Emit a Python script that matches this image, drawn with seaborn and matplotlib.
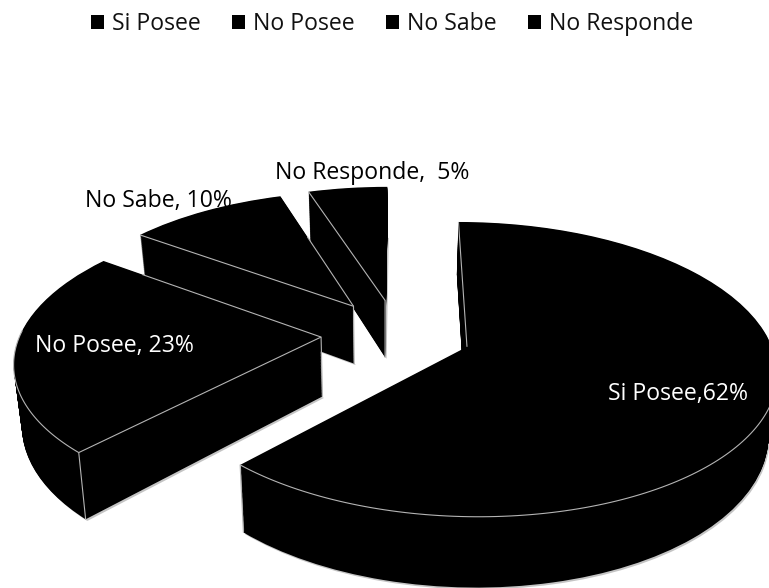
import numpy as np
import matplotlib
matplotlib.use("Agg")
import matplotlib.pyplot as plt
from matplotlib.transforms import Transform
import seaborn as sns

categories = ["Si Posee", "No Posee", "No Sabe", "No Responde"]
values = [62, 23, 10, 5]
point_labels = ["Si Posee,62%", "No Posee, 23%", "No Sabe, 10%", "No Responde,  5%"]

sns.set_theme(style="white")
plt.rcParams["font.family"] = ["Open Sans", "DejaVu Sans"]

EDGE = "#b4b4b4"
SHADOW = "#c4c4c4"


class Perspective(Transform):
    """Tilted, extruded view of the flat pie: unit plane to pixel positions."""
    input_dims = output_dims = 2
    is_separable = False
    has_inverse = False

    def __init__(self, z=0.0, nudge=0.0):
        super().__init__()
        self.z, self.nudge = z, nudge

    def transform_non_affine(self, values):
        v = np.asarray(values, dtype=float)
        den = 1 + 0.153 * v[:, 1]
        sx = 468 + (305 * v[:, 0] - 10 * v[:, 1]) / den
        sy = 347 - 144 * v[:, 1] / den
        sy = sy + self.z * 60 / den
        sx = sx + self.z * 0.0225 * (385 - sx) + self.nudge
        return np.column_stack([sx, sy])


fig = plt.figure(figsize=(7.69, 5.88), dpi=100)
ax = fig.add_axes([0, 0, 1, 1])

pie_kw = dict(explode=[0.25] * len(values), startangle=90, counterclock=False,
              center=(-0.2357, 0.0933), radius=1)
stack = {0: 4, 1: 3, 2: 2, 3: 1}


def layer(z, color="black", nudge=0.0, sub=0.0):
    wedges, _ = ax.pie(values, colors=[color] * len(values),
                       wedgeprops=dict(linewidth=0), **pie_kw)
    for i, w in enumerate(wedges):
        w.set_transform(Perspective(z, nudge) + ax.transData)
        w.set_zorder(stack[i] + sub)
    return wedges


layer(1.025, SHADOW, nudge=1.5)
for z in np.linspace(1, 0, 80):
    top = layer(z, sub=0.1)

top_view = Perspective(0) + ax.transData
wall_view = Perspective(1) + ax.transData


def corner(w, theta):
    t = np.radians(theta)
    return np.array([w.center[0] + w.r * np.cos(t), w.center[1] + w.r * np.sin(t)])


def edge(points, transform, z):
    ax.plot(points[:, 0], points[:, 1], color=EDGE, lw=0.8, transform=transform,
            zorder=z, solid_capstyle="butt")


def vertical(point, z):
    ends = [top_view.transform([point])[0], wall_view.transform([point])[0]]
    p = ax.transData.inverted().transform(ends)
    ax.plot(p[:, 0], p[:, 1], color=EDGE, lw=0.8, zorder=z)


for i, w in enumerate(top):
    base = stack[i] + 0.5
    theta = np.linspace(w.theta1, w.theta2, 200)
    theta = theta[np.sin(np.radians(theta)) < 0.05]
    if len(theta):
        edge(np.array([corner(w, a) for a in theta]), top_view, base)
    if i != 0:
        vertical(np.array(w.center), base)

# radial edges on the top faces: wedge, side, visible share from the apex
radial = [(0, "theta2", 1.0), (1, "theta2", 1.0), (1, "theta1", 0.81),
          (2, "theta2", 1.0), (2, "theta1", 0.6), (3, "theta2", 1.0)]
for i, side, share in radial:
    w = top[i]
    apex = np.array(w.center)
    rim = corner(w, getattr(w, side))
    edge(np.array([apex, apex + share * (rim - apex)]), top_view, stack[i] + 0.5)

# near corner verticals
for i, side in [(0, "theta1"), (1, "theta2")]:
    w = top[i]
    vertical(corner(w, getattr(w, side)), stack[i] + 0.5)

ax.set_aspect("auto")
ax.set_xlim(0, 769)
ax.set_ylim(588, 0)
ax.axis("off")

SIZE = 16.6
ax.text(678.5, 394, point_labels[0], color="white", fontsize=SIZE, ha="center", va="center", zorder=10)
ax.text(114.5, 346, point_labels[1], color="white", fontsize=SIZE, ha="center", va="center", zorder=10)
ax.text(158, 201, point_labels[2], color="black", fontsize=SIZE, ha="center", va="center", zorder=0.5)
ax.text(372.5, 173, point_labels[3], color="black", fontsize=SIZE, ha="center", va="center", zorder=0.5)

ax.legend(top[:4], categories, ncol=4, loc="center", bbox_to_anchor=(392 / 769, 1 - 24 / 588),
          frameon=False, fontsize=SIZE, handlelength=0.57, handleheight=0.57,
          handletextpad=0.35, columnspacing=1.35, labelcolor="#111111",
          borderpad=0, borderaxespad=0)

fig.savefig("out.png", dpi=100, facecolor="white")
